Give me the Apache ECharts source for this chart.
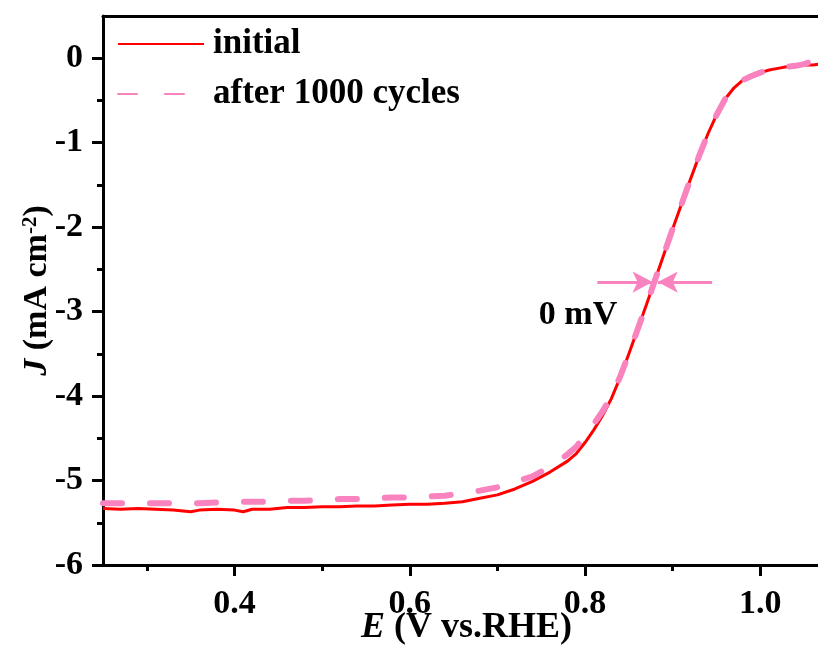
<!DOCTYPE html>
<html>
<head>
<meta charset="utf-8">
<script src="https://cdn.jsdelivr.net/npm/echarts@6/dist/echarts.min.js"></script>
<style>
  html, body { margin: 0; padding: 0; background: #fff; }
  #chart { width: 818px; height: 648px; }
</style>
</head>
<body>
<div id="chart"></div>
<script>
// Potential (V vs. RHE) shared by both polarisation curves
const potential = [0.25, 0.27, 0.29, 0.31, 0.33, 0.35, 0.36, 0.38, 0.40, 0.41, 0.42, 0.44, 0.46, 0.48,
  0.50, 0.52, 0.54, 0.56, 0.58, 0.60, 0.62, 0.64, 0.66, 0.68, 0.70, 0.72, 0.74, 0.76, 0.78, 0.79,
  0.80, 0.81, 0.82, 0.83, 0.84, 0.85, 0.86, 0.87, 0.88, 0.89, 0.90, 0.91, 0.92, 0.93, 0.94, 0.95,
  0.96, 0.97, 0.98, 0.99, 1.00, 1.01, 1.02, 1.03, 1.04, 1.05, 1.06, 1.066];

// Current density (mA cm^-2), initial scan
const initialJ = [-5.33, -5.34, -5.33, -5.34, -5.35, -5.37, -5.35, -5.34, -5.35, -5.37, -5.34, -5.34, -5.32, -5.32,
  -5.31, -5.31, -5.30, -5.30, -5.29, -5.28, -5.28, -5.27, -5.25, -5.21, -5.17, -5.10, -5.01, -4.90, -4.77, -4.68,
  -4.55, -4.40, -4.23, -4.03, -3.78, -3.50, -3.21, -2.92, -2.62, -2.32, -2.02, -1.73, -1.44, -1.16, -0.90, -0.67,
  -0.48, -0.35, -0.26, -0.21, -0.17, -0.14, -0.12, -0.10, -0.09, -0.08, -0.08, -0.07];

// Current density (mA cm^-2) after 1000 cycles
const cycledJ = [-5.27, -5.27, -5.27, -5.27, -5.27, -5.27, -5.27, -5.26, -5.26, -5.25, -5.25, -5.25, -5.24, -5.24,
  -5.23, -5.22, -5.22, -5.21, -5.20, -5.20, -5.19, -5.18, -5.15, -5.12, -5.08, -5.02, -4.95, -4.84, -4.69, -4.60,
  -4.47, -4.33, -4.18, -4.00, -3.77, -3.50, -3.21, -2.92, -2.62, -2.32, -2.02, -1.73, -1.44, -1.16, -0.90, -0.67,
  -0.48, -0.35, -0.26, -0.21, -0.17, -0.14, -0.12, -0.10, -0.09, -0.07, -0.03, 0.00];

const seriesNames = ['initial', 'after 1000 cycles'];

// Tick positions
const xMajorTicks = [0.4, 0.6, 0.8, 1.0];
const xMinorTicks = [0.3, 0.5, 0.7, 0.9, 1.1];
const yMajorTicks = [0, -1, -2, -3, -4, -5, -6];
const yMinorTicks = [-0.5, -1.5, -2.5, -3.5, -4.5, -5.5];

// Half-wave potential shift marker: arrows converge on the curves at this level
const shiftLevel = -2.65;
const leftArrow = [0.814, 0.877];
const rightArrow = [0.945, 0.883];
const shiftLabel = '0 mV';
const shiftLabelAt = [0.792, -3.04];

const FONT = '"Liberation Serif", "Times New Roman", serif';
const RED = '#ff0000';
const PINK = '#f883bf';

const chart = echarts.init(document.getElementById('chart'));

const zip = (xs, ys) => xs.map((x, i) => [x, ys[i]]);

const xRange = { min: 0.25, max: 1.1 };
const yRange = { min: -6, max: 0.5 };
// plot area (the right edge runs past the page)
const plotBox = { left: 103, right: -30, top: 16, bottom: 83, outerBoundsMode: 'none', containLabel: false };

const tickLine = { color: '#000', width: 3 };
const hidden = { show: false };

chart.setOption({
  backgroundColor: '#fff',
  animation: false,
  // grid 0 carries the data; grid 1 overlays it and only carries the minor ticks
  grid: [Object.assign({}, plotBox), Object.assign({}, plotBox)],
  legend: {
    orient: 'vertical',
    left: 117,
    top: 24,
    padding: 0,
    itemWidth: 86,
    itemHeight: 20,
    itemGap: 10,
    data: seriesNames,
    itemStyle: { color: 'rgba(0,0,0,0)', borderColor: 'rgba(0,0,0,0)', borderWidth: 0, opacity: 0 },
    textStyle: {
      fontFamily: FONT, fontWeight: 'bold', fontSize: 35, color: '#000',
      lineHeight: 40, padding: [0, 0, 0, 4]
    }
  },
  xAxis: [
    {
      type: 'value', gridIndex: 0, position: 'bottom', ...xRange,
      name: '{i|E} (V vs.RHE)',
      nameLocation: 'middle',
      nameGap: 45,
      nameMoveOverlap: false,
      nameTextStyle: {
        fontFamily: FONT, fontWeight: 'bold', fontSize: 36, color: '#000',
        padding: [0, 18, 0, 0],
        rich: { i: { fontFamily: FONT, fontWeight: 'bold', fontStyle: 'italic', fontSize: 36, color: '#000' } }
      },
      axisLine: { show: true, onZero: false, lineStyle: tickLine },
      axisTick: { show: true, inside: false, length: 11, customValues: xMajorTicks, lineStyle: tickLine },
      axisLabel: {
        customValues: xMajorTicks, margin: 22,
        formatter: v => v.toFixed(1),
        fontFamily: FONT, fontWeight: 'bold', fontSize: 34, color: '#000'
      },
      splitLine: hidden
    },
    {
      // top frame line
      type: 'value', gridIndex: 0, position: 'top', ...xRange,
      axisLine: { show: true, onZero: false, lineStyle: tickLine },
      axisTick: hidden, axisLabel: hidden, splitLine: hidden
    },
    {
      // minor ticks along the bottom edge
      type: 'value', gridIndex: 1, position: 'bottom', ...xRange,
      axisLine: { show: false, onZero: false },
      axisTick: { show: true, inside: false, length: 6, customValues: xMinorTicks, lineStyle: tickLine },
      axisLabel: hidden, splitLine: hidden
    }
  ],
  yAxis: [
    {
      type: 'value', gridIndex: 0, position: 'left', ...yRange,
      name: '{i|J} (mA cm{sup|-2})',
      nameLocation: 'middle',
      nameGap: 48,
      nameMoveOverlap: false,
      nameTextStyle: {
        fontFamily: FONT, fontWeight: 'bold', fontSize: 34, color: '#000',
        rich: {
          i: { fontFamily: FONT, fontWeight: 'bold', fontStyle: 'italic', fontSize: 34, color: '#000' },
          sup: { fontFamily: FONT, fontWeight: 'bold', fontSize: 21, color: '#000', verticalAlign: 'top', padding: [0, 0, 14, 0] }
        }
      },
      axisLine: { show: true, onZero: false, lineStyle: tickLine },
      axisTick: { show: true, inside: false, length: 11, customValues: yMajorTicks, lineStyle: tickLine },
      axisLabel: {
        customValues: yMajorTicks, margin: 20,
        fontFamily: FONT, fontWeight: 'bold', fontSize: 34, color: '#000'
      },
      splitLine: hidden
    },
    {
      // minor ticks along the left edge
      type: 'value', gridIndex: 1, position: 'left', ...yRange,
      axisLine: { show: false, onZero: false },
      axisTick: { show: true, inside: false, length: 6, customValues: yMinorTicks, lineStyle: tickLine },
      axisLabel: hidden, splitLine: hidden
    }
  ],
  series: [
    {
      name: seriesNames[0],
      type: 'line',
      xAxisIndex: 0, yAxisIndex: 0,
      data: zip(potential, initialJ),
      symbol: 'none',
      lineStyle: { color: RED, width: 3 },
      itemStyle: { color: RED },
      z: 2
    },
    {
      name: seriesNames[1],
      type: 'line',
      xAxisIndex: 0, yAxisIndex: 0,
      data: zip(potential, cycledJ),
      symbol: 'none',
      lineStyle: { color: PINK, width: 6, type: [19, 28], cap: 'round' },
      itemStyle: { color: PINK },
      z: 3,
      markLine: {
        silent: true,
        symbol: ['none', 'arrow'],
        symbolSize: [16, 20],
        lineStyle: { color: PINK, width: 3, type: 'solid' },
        label: { show: false },
        data: [
          [{ coord: [leftArrow[0], shiftLevel] }, { coord: [leftArrow[1], shiftLevel] }],
          [{ coord: [rightArrow[0], shiftLevel] }, { coord: [rightArrow[1], shiftLevel] }]
        ]
      },
      markPoint: {
        silent: true,
        symbol: 'circle',
        symbolSize: 0,
        label: {
          show: true, position: 'inside', formatter: shiftLabel,
          fontFamily: FONT, fontWeight: 'bold', fontSize: 34, color: '#000'
        },
        data: [{ coord: shiftLabelAt }]
      }
    }
  ]
});
</script>
</body>
</html>
